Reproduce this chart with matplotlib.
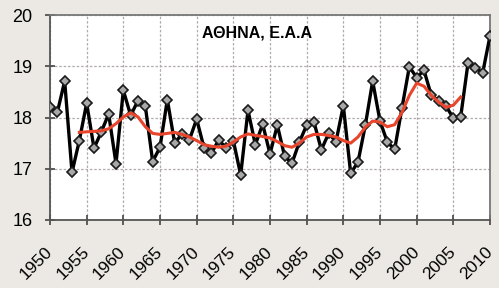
import numpy as np
import matplotlib
matplotlib.use("Agg")
import matplotlib.pyplot as plt

plt.rcParams['font.family'] = ['Liberation Sans', 'DejaVu Sans']

years = list(range(1950, 2011))
temp = [18.20, 18.10, 18.71, 16.93, 17.55, 18.28, 17.40, 17.72, 18.07, 17.10,
        18.53, 18.04, 18.33, 18.22, 17.14, 17.42, 18.35, 17.50, 17.68, 17.56,
        17.97, 17.41, 17.30, 17.56, 17.41, 17.55, 16.88, 18.14, 17.47, 17.87,
        17.29, 17.85, 17.24, 17.11, 17.52, 17.85, 17.91, 17.37, 17.69, 17.53,
        18.23, 16.91, 17.13, 17.85, 18.71, 17.93, 17.52, 17.38, 18.19, 18.99,
        18.78, 18.92, 18.43, 18.33, 18.22, 17.99, 18.01, 19.06, 18.97, 18.87,
        19.59]

smooth_years = list(range(1954, 2007))
smooth = [17.71, 17.72, 17.73, 17.74, 17.78, 17.88, 18.01, 18.09, 18.01, 17.82,
          17.69, 17.67, 17.69, 17.71, 17.67, 17.62, 17.55, 17.47, 17.44, 17.42,
          17.44, 17.52, 17.62, 17.68, 17.65, 17.63, 17.60, 17.53, 17.45, 17.42,
          17.50, 17.62, 17.67, 17.67, 17.65, 17.62, 17.55, 17.50, 17.62, 17.81,
          17.93, 17.91, 17.82, 17.86, 18.10, 18.43, 18.67, 18.61, 18.43, 18.30,
          18.20, 18.24, 18.40]

xticks = list(range(1950, 2011, 5))
yticks = [16, 17, 18, 19, 20]
title = "ΑΘΗΝΑ, Ε.Α.Α"

fig = plt.figure(figsize=(4.99, 2.88), dpi=100, facecolor="#ECE9E4")
ax = fig.add_axes([50/499, 1-220/288, 440/499, 205/288])
ax.set_facecolor("white")

ax.grid(True, color="#b3aaaa", linestyle=(0, (2, 1.5)), linewidth=0.9)
ax.set_axisbelow(True)

ax.plot(years, temp, color="black", lw=2.4, marker="D", ms=5,
        mfc="#a8a8a8", mec="#1a1a1a", mew=1.2, zorder=3)
ax.plot(smooth_years, smooth, color="#E8452C", lw=2.2, zorder=4)

ax.set_xlim(1950, 2010)
ax.set_ylim(16, 20)
ax.set_xticks(xticks)
ax.set_yticks(yticks)
ax.set_xticklabels([str(x) for x in xticks], rotation=45, ha="right",
                   va="center", rotation_mode="anchor", fontsize=12.5)
ax.set_yticklabels([str(y) for y in yticks], fontsize=13)
ax.tick_params(axis="both", direction="inout", length=7, width=1.2,
               color="#444444")
ax.tick_params(axis="x", pad=17.5)
ax.tick_params(axis="y", pad=9)

for side in ["left", "bottom"]:
    ax.spines[side].set_color("#555555")
    ax.spines[side].set_linewidth(1.3)
for side in ["top", "right"]:
    ax.spines[side].set_color("#777777")
    ax.spines[side].set_linewidth(1.3)

ax.text(0.47, 0.91, title, transform=ax.transAxes, fontsize=11.5,
        fontweight="bold", ha="center", va="center")

fig.savefig("out.png", dpi=100, facecolor=fig.get_facecolor())
